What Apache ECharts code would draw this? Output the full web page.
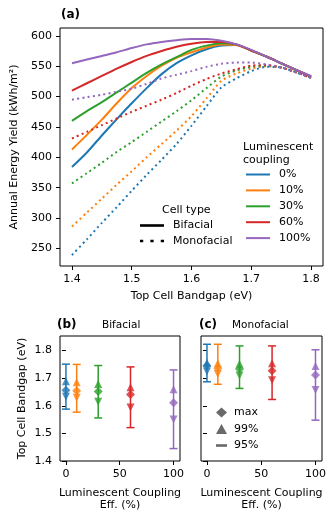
<!DOCTYPE html>
<html>
<head>
<meta charset="utf-8">
<title>Annual energy yield vs top cell bandgap</title>
<script src="https://cdn.jsdelivr.net/npm/echarts@6/dist/echarts.min.js"></script>
<style>
  html, body { margin: 0; padding: 0; background: #fff; }
  #chart { width: 335px; height: 520px; }
</style>
</head>
<body>
<div id="chart"></div>
<script>
// ---- data: panel (a) ----
var bandgap = [1.400, 1.425, 1.450, 1.475, 1.500, 1.525, 1.550, 1.575, 1.600,
               1.625, 1.650, 1.675, 1.700, 1.725, 1.750, 1.775, 1.800];
var couplingNames = ['0%', '10%', '30%', '60%', '100%'];

var bifacial0   = [384, 408, 436, 463, 489, 514, 537, 555, 568, 578, 584, 585, 576, 566, 555, 544, 533];
var bifacial10  = [413, 437, 462, 489, 514, 534, 551, 564, 573, 581, 586, 585, 576, 566, 555, 544, 533];
var bifacial30  = [460, 476, 491, 507, 523, 539, 553, 565, 577, 584, 588, 586, 576, 566, 555, 544, 533];
var bifacial60  = [510, 522, 534, 546, 557, 567, 575, 582, 587, 590, 590, 586, 576, 566, 555, 544, 533];
var bifacial100 = [555, 561, 567, 573, 580, 586, 590, 593, 595, 595, 592, 586, 577, 566, 555, 544, 534];

var mono0   = [239, 265, 292, 318, 345, 371, 396, 422, 452, 484, 515, 530, 542, 549, 548, 540, 531];
var mono10  = [286, 309, 332, 355, 377, 400, 422, 444, 468, 497, 526, 538, 546, 550, 548, 540, 531];
var mono30  = [357, 374, 391, 409, 425, 442, 459, 476, 494, 514, 533, 543, 549, 551, 548, 540, 531];
var mono60  = [431, 442, 453, 464, 475, 485, 495, 506, 518, 529, 538, 545, 551, 552, 548, 540, 531];
var mono100 = [495, 499, 503, 508, 513, 521, 530, 536, 542, 549, 554, 556, 556, 553, 548, 540, 531];

var yieldTicks = [250, 300, 350, 400, 450, 500, 550, 600];
var bandgapTicks = [1.4, 1.5, 1.6, 1.7, 1.8];

// ---- data: panels (b) and (c) ----
var couplingEff = [0, 10, 30, 60, 100];

var bifMax    = [1.656, 1.655, 1.652, 1.641, 1.611];
var bif99Hi   = [1.689, 1.685, 1.679, 1.667, 1.660];
var bif99Lo   = [1.633, 1.629, 1.615, 1.594, 1.550];
var bif95Hi   = [1.751, 1.750, 1.746, 1.741, 1.730];
var bif95Lo   = [1.588, 1.577, 1.556, 1.521, 1.445];

var monoMax   = [1.745, 1.736, 1.733, 1.727, 1.712];
var mono99Hi  = [1.756, 1.754, 1.752, 1.754, 1.744];
var mono99Lo  = [1.724, 1.715, 1.710, 1.693, 1.657];
var mono95Hi  = [1.823, 1.823, 1.817, 1.817, 1.803];
var mono95Lo  = [1.687, 1.678, 1.663, 1.623, 1.548];

var gapTicks = [1.4, 1.5, 1.6, 1.7, 1.8];
var effTicks = [0, 50, 100];

var colors = ['#1f77b4', '#ff7f0e', '#2ca02c', '#d62728', '#9467bd'];

// ---- helpers ----
function pairs(xs, ys) {
  return xs.map(function (x, i) { return [x, ys[i]]; });
}

var fontFam = '"DejaVu Sans", sans-serif';
var txt = { color: '#000', fontFamily: fontFam, fontSize: 11 };

function valueAxis(grid, min, max, ticks, showLabels, fmt) {
  return {
    type: 'value', gridIndex: grid, min: min, max: max,
    axisLine: { show: false },
    splitLine: { show: false },
    axisTick: { show: true, length: 4, customValues: ticks, lineStyle: { color: '#000', width: 1 } },
    axisLabel: {
      show: showLabels, customValues: ticks, margin: 8,
      color: '#000', fontFamily: fontFam, fontSize: 11,
      formatter: fmt
    }
  };
}

function errorBar(params, api) {
  var x = api.value(0);
  var lo = api.coord([x, api.value(1)]);
  var hi = api.coord([x, api.value(2)]);
  var cap = 4;
  var st = { stroke: colors[params.dataIndex], lineWidth: 1.5 };
  return {
    type: 'group',
    children: [
      { type: 'line', shape: { x1: lo[0], y1: lo[1], x2: hi[0], y2: hi[1] }, style: st },
      { type: 'line', shape: { x1: lo[0] - cap, y1: lo[1], x2: lo[0] + cap, y2: lo[1] }, style: st },
      { type: 'line', shape: { x1: hi[0] - cap, y1: hi[1], x2: hi[0] + cap, y2: hi[1] }, style: st }
    ]
  };
}

function colored(xs, ys) {
  return xs.map(function (x, i) {
    return { value: [x, ys[i]], itemStyle: { color: colors[i] } };
  });
}

function ranges(xs, lo, hi) {
  return xs.map(function (x, i) { return [x, lo[i], hi[i]]; });
}

function markerSeries(grid, symbol, size, rotate, xs, ys) {
  return {
    type: 'scatter', xAxisIndex: grid, yAxisIndex: grid,
    symbol: symbol, symbolSize: size, symbolRotate: rotate,
    data: colored(xs, ys), z: 5, silent: true
  };
}

// ---- series ----
var bifacialSets = [bifacial0, bifacial10, bifacial30, bifacial60, bifacial100];
var monoSets = [mono0, mono10, mono30, mono60, mono100];

var series = [];
for (var i = 0; i < couplingNames.length; i++) {
  series.push({
    name: couplingNames[i], type: 'line', xAxisIndex: 0, yAxisIndex: 0,
    data: pairs(bandgap, bifacialSets[i]), smooth: 0.25,
    symbol: 'none', color: colors[i],
    lineStyle: { width: 2, color: colors[i] }, z: 2 + i
  });
  series.push({
    name: couplingNames[i] + ' mono', type: 'line', xAxisIndex: 0, yAxisIndex: 0,
    data: pairs(bandgap, monoSets[i]), smooth: 0.25,
    symbol: 'none', color: colors[i],
    lineStyle: { width: 2, color: colors[i], type: [2, 3.3] }, z: 2 + i
  });
}
// cell-type legend entries
series.push({ name: 'Bifacial', type: 'line', xAxisIndex: 0, yAxisIndex: 0, data: [],
  symbol: 'none', color: '#000', lineStyle: { width: 2.5, color: '#000' } });
series.push({ name: 'Monofacial', type: 'line', xAxisIndex: 0, yAxisIndex: 0, data: [],
  symbol: 'none', color: '#000', lineStyle: { width: 2.5, color: '#000', type: [3, 5] } });

// panels (b) and (c)
[[1, bifMax, bif99Hi, bif99Lo, bif95Hi, bif95Lo],
 [2, monoMax, mono99Hi, mono99Lo, mono95Hi, mono95Lo]].forEach(function (p) {
  var g = p[0];
  series.push({ type: 'custom', xAxisIndex: g, yAxisIndex: g, renderItem: errorBar,
    data: ranges(couplingEff, p[5], p[4]), z: 3, silent: true });
  series.push(markerSeries(g, 'diamond', 9, 0, couplingEff, p[1]));
  series.push(markerSeries(g, 'triangle', 8, 0, couplingEff, p[2]));
  series.push(markerSeries(g, 'triangle', 8, 180, couplingEff, p[3]));
});
// marker legend entries
['max', '99%', '95%'].forEach(function (n) {
  series.push({ name: n, type: 'scatter', xAxisIndex: 2, yAxisIndex: 2, data: [], color: '#444' });
});

function label(text, left, top, size, bold) {
  return { text: text, left: left, top: top, padding: 0,
    textStyle: { color: '#000', fontFamily: fontFam, fontSize: size, fontWeight: bold ? 'bold' : 'normal', lineHeight: 13 } };
}

var option = {
  animation: false,
  backgroundColor: '#fff',
  textStyle: { fontFamily: fontFam },
  title: [
    label('(a)', 61, 8, 12, true),
    label('(b)', 57, 318, 12, true),
    label('Bifacial', 102, 319, 10.5),
    label('(c)', 199, 318, 12, true),
    label('Monofacial', 232, 319, 10.5),
    label('Luminescent\ncoupling', 243, 141, 11),
    label('Cell type', 162, 204, 11)
  ],
  legend: [
    {
      data: couplingNames, orient: 'vertical', left: 246, top: 169, padding: 0,
      itemWidth: 24, itemHeight: 2, itemGap: 4.9, icon: 'rect',
      selectedMode: false,
      textStyle: { color: '#000', fontFamily: fontFam, fontSize: 11, padding: [0, 0, 0, 4] }
    },
    {
      data: [
        { name: 'Bifacial', icon: 'rect' },
        { name: 'Monofacial', icon: 'path://M0,0h2.5v2.5h-2.5z M8,0h2.5v2.5h-2.5z M16,0h2.5v2.5h-2.5z' }
      ],
      orient: 'vertical', left: 140, top: 220, padding: 0,
      itemWidth: 24, itemHeight: 2.6, itemGap: 4.5, symbolKeepAspect: false,
      selectedMode: false,
      textStyle: { color: '#000', fontFamily: fontFam, fontSize: 11, padding: [0, 0, 0, 4] }
    },
    {
      data: [
        { name: 'max', icon: 'diamond' },
        { name: '99%', icon: 'triangle' },
        { name: '95%', icon: 'path://M0,0L10,0L10,2.4L0,2.4Z' }
      ],
      orient: 'vertical', left: 216, top: 407, padding: 0,
      itemWidth: 11, itemHeight: 10, itemGap: 5.5,
      selectedMode: false,
      textStyle: { color: '#000', fontFamily: fontFam, fontSize: 11, padding: [0, 0, 0, 2] }
    }
  ],
  grid: [
    { left: 60, top: 28, width: 263, height: 238, show: true, borderColor: '#000', borderWidth: 1, backgroundColor: 'transparent' },
    { left: 60, top: 336, width: 120, height: 125, show: true, borderColor: '#000', borderWidth: 1, backgroundColor: 'transparent' },
    { left: 201, top: 336, width: 121, height: 125, show: true, borderColor: '#000', borderWidth: 1, backgroundColor: 'transparent' }
  ],
  xAxis: [
    Object.assign(valueAxis(0, 1.38, 1.82, bandgapTicks, true, function (v) { return v.toFixed(1); }), {
      name: 'Top Cell Bandgap (eV)', nameLocation: 'middle', nameGap: 25, nameTextStyle: txt
    }),
    Object.assign(valueAxis(1, -5.5, 106, effTicks, true), {
      name: 'Luminescent Coupling\nEff. (%)', nameLocation: 'middle', nameGap: 26,
      nameTextStyle: Object.assign({ lineHeight: 12 }, txt)
    }),
    Object.assign(valueAxis(2, -5.5, 106, effTicks, true), {
      name: 'Luminescent Coupling\nEff. (%)', nameLocation: 'middle', nameGap: 26,
      nameTextStyle: Object.assign({ lineHeight: 12 }, txt)
    })
  ],
  yAxis: [
    Object.assign(valueAxis(0, 221, 613, yieldTicks, true), {
      name: 'Annual Energy Yield (kWh/m²)', nameLocation: 'middle', nameGap: 32, nameTextStyle: txt
    }),
    Object.assign(valueAxis(1, 1.4, 1.853, gapTicks, true, function (v) { return v.toFixed(1); }), {
      name: 'Top Cell Bandgap (eV)', nameLocation: 'middle', nameGap: 32, nameTextStyle: txt
    }),
    valueAxis(2, 1.4, 1.853, gapTicks, false)
  ],
  series: series
};

var chart = echarts.init(document.getElementById('chart'), null, { renderer: 'canvas' });
chart.setOption(option);
</script>
</body>
</html>
